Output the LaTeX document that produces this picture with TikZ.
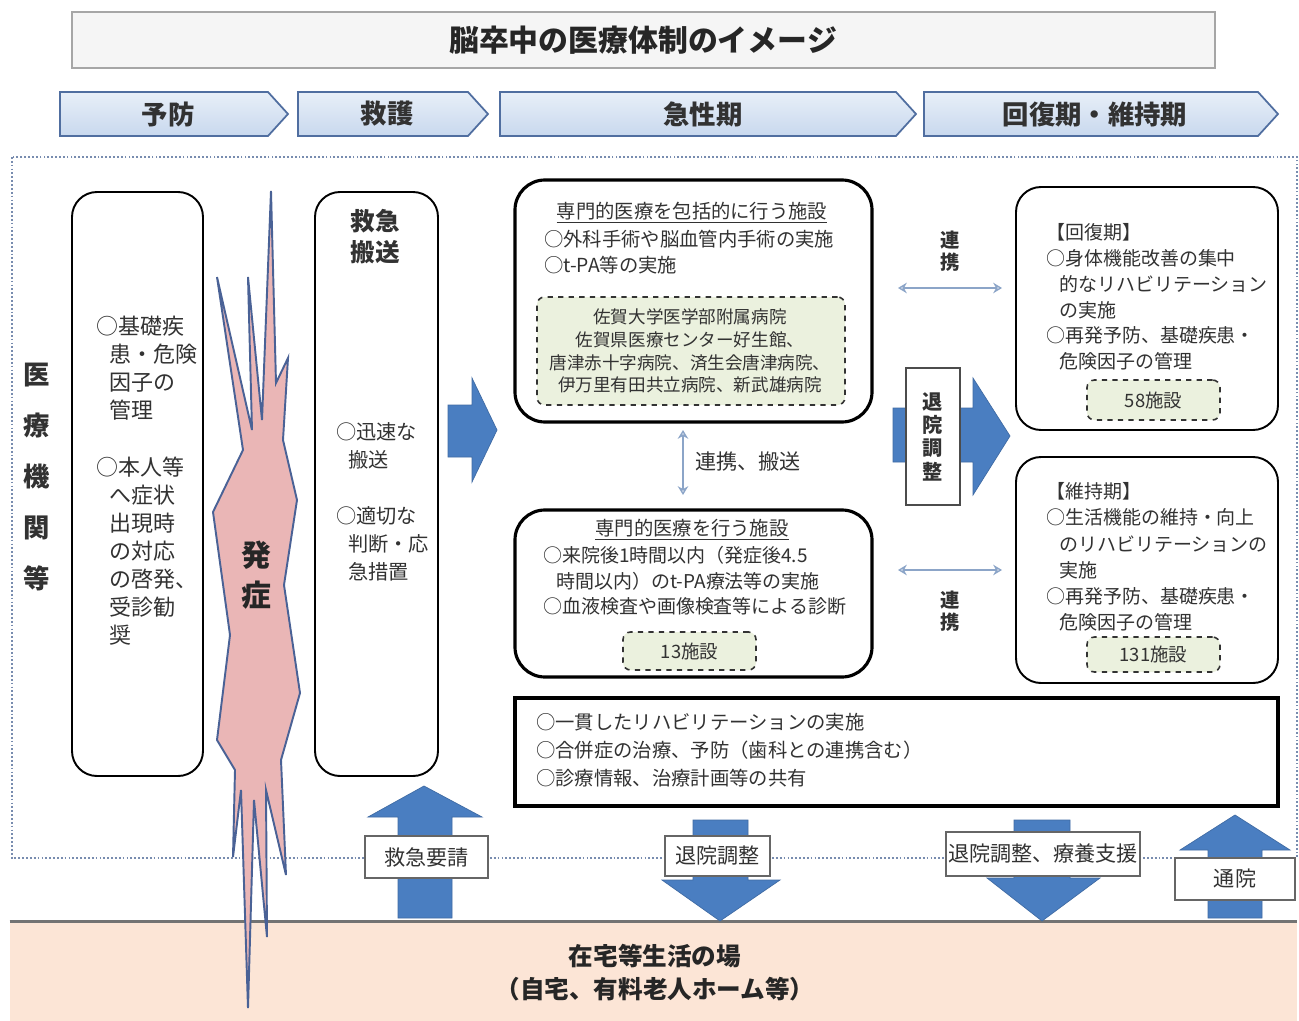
\documentclass[tikz,border=0pt]{standalone}
\usepackage{fontspec}
\setmainfont{Noto Sans CJK JP}
\usetikzlibrary{fit,arrows.meta}
\definecolor{txt}{RGB}{50,50,50}
\definecolor{arrblue}{RGB}{74,126,193}
\definecolor{chevtop}{RGB}{232,239,248}
\definecolor{chevfill}{RGB}{200,216,238}
\definecolor{chevdraw}{RGB}{80,110,160}
\definecolor{pinkfill}{RGB}{234,182,182}
\definecolor{burstline}{RGB}{74,98,150}
\definecolor{greenfill}{RGB}{235,241,222}
\definecolor{peach}{RGB}{252,229,214}
\definecolor{dotline}{RGB}{120,140,175}
\definecolor{arrthin}{RGB}{140,165,200}
\newcommand\myfs[2]{\fontsize{#1}{#2}\selectfont}
\begin{document}
\begin{tikzpicture}[x=0.02cm,y=-0.02cm,
  every node/.style={text=txt},
  rbox/.style={draw=black, line width=1.1pt, rounded corners=0.5cm, inner sep=0pt},
  tbox/.style={draw=black, line width=1.8pt, rounded corners=0.6cm, inner sep=0pt},
  dbox/.style={draw=black!80, dashed, line width=0.9pt, fill=greenfill, rounded corners=0.15cm, inner sep=0pt},
  lbl/.style={draw=black!60, fill=white, line width=0.8pt, inner sep=0pt},
  bluearr/.style={fill=arrblue, draw=arrblue!85!black, line width=0.4pt},
  chev/.style={top color=chevtop, bottom color=chevfill, draw=chevdraw, line width=1pt},
  thinarr/.style={{Stealth[length=5pt,width=6pt,open]}-{Stealth[length=5pt,width=6pt,open]}, draw=arrthin, line width=0.8pt},
  body/.style={font=\myfs{11}{14.7}, align=left, anchor=west}
]
\useasboundingbox (0,0) rectangle (1299,1021);
\fill[white] (0,0) rectangle (1299,1021);

% title
\node[fit={(72,12) (1215,68)}, draw=gray!70, fill=gray!8, line width=0.8pt, inner sep=0pt] (title) {};
\node[font=\myfs{17}{20}\bfseries, text=black!85] (titletxt) at (643,40) {脳卒中の医療体制のイメージ};

% phase chevrons
\draw[chev] (60,92) -- (268,92) -- (288,114) -- (268,136) -- (60,136) -- cycle;
\draw[chev] (298,92) -- (468,92) -- (488,114) -- (468,136) -- (298,136) -- cycle;
\draw[chev] (500,92) -- (896,92) -- (916,114) -- (896,136) -- (500,136) -- cycle;
\draw[chev] (924,92) -- (1258,92) -- (1278,114) -- (1258,136) -- (924,136) -- cycle;
\node[font=\myfs{15}{18}\bfseries] (ph1) at (168,114) {予防};
\node[font=\myfs{15}{18}\bfseries] (ph2) at (387,114) {救護};
\node[font=\myfs{15}{18}\bfseries] (ph3) at (703,114) {急性期};
\node[font=\myfs{15}{18}\bfseries] (ph4) at (1095,114) {回復期・維持期};

% dotted frame
\draw[dotline, line width=1.3pt, dash pattern=on 1pt off 1.2pt] (12,157) rectangle (1297,858);
\node[font=\myfs{15}{29}\bfseries, align=center] (inst) at (37,477) {医\\療\\機\\関\\等};

% home area
\node[fit={(10,922) (1297,1021)}, fill=peach, inner sep=0pt] (home) {};
\draw[black!55, line width=1.5pt] (home.north west) -- (home.north east);
\node[font=\myfs{14}{18.7}\bfseries, align=center, text=black!85] (hometxt) at (655,973) {在宅等生活の場\\（自宅、有料老人ホーム等）};

% bottom block arrows
\draw[bluearr] (398,918) -- (398,817) -- (368,817) -- (424,786) -- (482,817) -- (452,817) -- (452,918) -- cycle;
\draw[bluearr] (693,820) -- (748,820) -- (748,880) -- (780,880) -- (720,921) -- (662,880) -- (693,880) -- cycle;
\draw[bluearr] (1014,820) -- (1070,820) -- (1070,878) -- (1100,878) -- (1042,921) -- (987,878) -- (1014,878) -- cycle;
\draw[bluearr] (1208,918) -- (1208,850) -- (1180,850) -- (1235,815) -- (1290,850) -- (1262,850) -- (1262,918) -- cycle;
\node[lbl, fit={(365,836) (488,878)}] (req) {};
\node[font=\myfs{12}{14}] (reqT) at (req.center) {救急要請};
\node[lbl, fit={(665,836) (770,876)}] (dis1) {};
\node[font=\myfs{12}{14}] (dis1T) at (dis1.center) {退院調整};
\node[lbl, fit={(946,832) (1140,876)}] (dis2) {};
\node[font=\myfs{12}{14}] (dis2T) at (dis2.center) {退院調整、療養支援};
\node[lbl, fit={(1175,858) (1295,900)}] (visit) {};
\node[font=\myfs{12}{14}] (visitT) at (visit.center) {通院};

% onset burst
\draw[fill=pinkfill, draw=burstline, line width=1.1pt, line join=miter]
  (271,191) -- (262,420) -- (248,277) -- (252,430) -- (217,277) -- (243,450)
  -- (213,512) -- (230,635) -- (217,740) -- (235,770) -- (233,857) -- (241,790)
  -- (248,1008) -- (254,800) -- (267,937) -- (266,790) -- (286,875) -- (281,760)
  -- (300,693) -- (284,585) -- (297,500) -- (283,440) -- (288,358) -- (276,383) -- cycle;
\node[font=\myfs{17}{22.7}\bfseries, align=center, text=black!85] (onset) at (256,575) {発\\症};

% prevention box
\node[rbox, fit={(72,192) (203,776)}] (prev) {};
\node[body, font=\myfs{12.5}{15.9}] (prevA) at (90,368) {○基礎疾\\\hspace*{0.6em}患・危険\\\hspace*{0.6em}因子の\\\hspace*{0.6em}管理};
\node[body, font=\myfs{12.5}{15.9}] (prevB) at (90,551) {○本人等\\\hspace*{0.6em}へ症状\\\hspace*{0.6em}出現時\\\hspace*{0.6em}の対応\\\hspace*{0.6em}の啓発、\\\hspace*{0.6em}受診勧\\\hspace*{0.6em}奨};

% rescue box
\node[rbox, fit={(315,192) (438,776)}] (resc) {};
\node[font=\myfs{14}{17.6}\bfseries, align=center] (rescT) at (375,237) {救急\\搬送};
\node[body, font=\myfs{11.5}{15.9}] (rescB) at (330,502) {○迅速な\\\hspace*{0.6em}搬送\\[15.9pt]○適切な\\\hspace*{0.6em}判断・応\\\hspace*{0.6em}急措置};

% arrow to acute
\draw[bluearr] (448,405) -- (472,405) -- (472,378) -- (497,430) -- (472,482) -- (472,457) -- (448,457) -- cycle;

% comprehensive facility
\node[tbox, fit={(515,180) (872,422)}] (comp) {};
\node[font=\myfs{11}{13}] (compT) at (692,213) {\underline{専門的医療を包括的に行う施設}};
\node[body] (compB) at (538,252) {○外科手術や脳血管内手術の実施\\○t-PA等の実施};
\node[dbox, fit={(537,297) (845,405)}] (compH) {};
\node[font=\myfs{10}{13}, align=center] (compHT) at (690,351) {佐賀大学医学部附属病院\\佐賀県医療センター好生館、\\唐津赤十字病院、済生会唐津病院、\\伊万里有田共立病院、新武雄病院};

% specialized facility
\node[tbox, fit={(515,510) (872,677)}] (spec) {};
\node[font=\myfs{11}{13}] (specT) at (692,530) {\underline{専門的医療を行う施設}};
\node[body, font=\myfs{10.8}{14.5}] (specB) at (537,581) {○来院後1時間以内（発症後4.5\\\hspace*{0.7em}時間以内）のt-PA療法等の実施\\○血液検査や画像検査等による診断};
\node[dbox, fit={(623,632) (756,670)}] (spec13) {};
\node[font=\myfs{10.5}{12}] (spec13T) at (spec13.center) {13施設};

% link between acute facilities
\coordinate (v1) at (683,430);
\coordinate (v2) at (683,495);
\draw[thinarr] (v1) -- (v2);
\node[font=\myfs{12}{14}] (vlbl) at (748,462) {連携、搬送};

% recovery box
\node[rbox, fit={(1016,187) (1278,430)}] (recov) {};
\node[body, font=\myfs{10.8}{14.7}] (recovB) at (1040,297) {【回復期】\\○身体機能改善の集中\\\hspace*{0.7em}的なリハビリテーション\\\hspace*{0.7em}の実施\\○再発予防、基礎疾患・\\\hspace*{0.7em}危険因子の管理};
\node[dbox, fit={(1087,380) (1220,420)}] (recov58) {};
\node[font=\myfs{10.5}{12}] (recov58T) at (recov58.center) {58施設};

% maintenance box
\node[rbox, fit={(1016,457) (1278,683)}] (maint) {};
\node[body, font=\myfs{10.8}{14.9}] (maintB) at (1040,557) {【維持期】\\○生活機能の維持・向上\\\hspace*{0.7em}のリハビリテーションの\\\hspace*{0.7em}実施\\○再発予防、基礎疾患・\\\hspace*{0.7em}危険因子の管理};
\node[dbox, fit={(1087,637) (1220,672)}] (maint131) {};
\node[font=\myfs{10.5}{12}] (maint131T) at (maint131.center) {131施設};

% links to recovery / maintenance
\coordinate (h1a) at (898,288);
\coordinate (h1b) at (1002,288);
\draw[thinarr] (h1a) -- (h1b);
\node[font=\myfs{11}{12.5}\bfseries, align=center] (h1lbl) at (950,251) {連\\携};
\coordinate (h2a) at (898,570);
\coordinate (h2b) at (1002,570);
\draw[thinarr] (h2a) -- (h2b);
\node[font=\myfs{11}{12.5}\bfseries, align=center] (h2lbl) at (950,611) {連\\携};

% discharge arrow
\draw[bluearr] (893,408) -- (973,408) -- (973,378) -- (1010,436) -- (973,495) -- (973,462) -- (893,462) -- cycle;
\node[lbl, draw=black!70, fit={(906,368) (960,505)}] (disc) {};
\node[font=\myfs{11.5}{13.3}\bfseries, align=center] (discT) at (disc.center) {退\\院\\調\\整};

% common box
\node[draw=black, line width=1.8pt, fit={(515,698) (1278,806)}, inner sep=0pt, fill=white] (common) {};
\node[body, font=\myfs{11}{15.9}] (commonB) at (530,750) {○一貫したリハビリテーションの実施\\○合併症の治療、予防（歯科との連携含む）\\○診療情報、治療計画等の共有};

\end{tikzpicture}
\end{document}
